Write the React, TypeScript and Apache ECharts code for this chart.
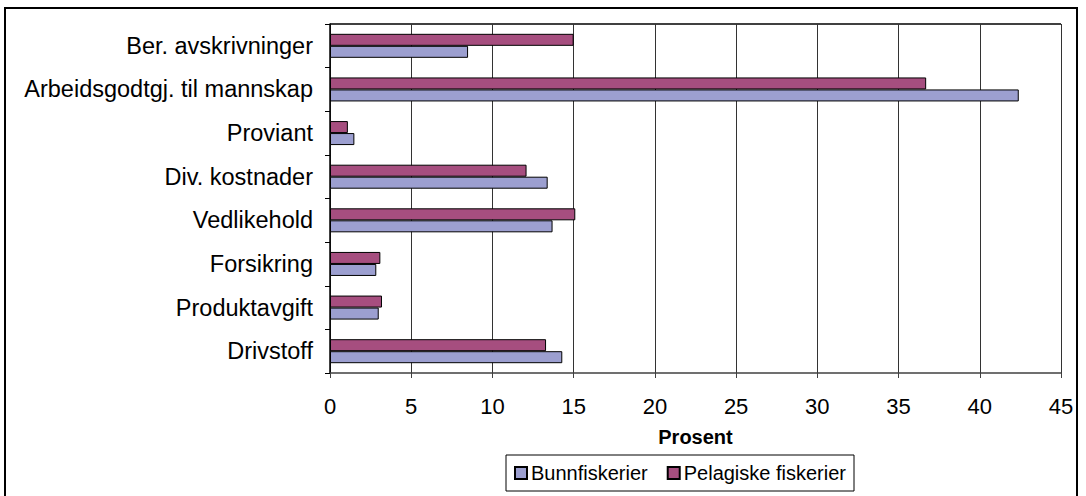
import React, { useEffect, useRef } from "react";
import * as echarts from "echarts";

const categories = [
  "Drivstoff",
  "Produktavgift",
  "Forsikring",
  "Vedlikehold",
  "Div. kostnader",
  "Proviant",
  "Arbeidsgodtgj. til mannskap",
  "Ber. avskrivninger",
];
const bunnfiskerier = [14.3, 3.0, 2.85, 13.7, 13.4, 1.5, 42.4, 8.5];
const pelagiske = [13.3, 3.2, 3.1, 15.1, 12.1, 1.1, 36.7, 15.0];
const xTicks = [0, 5, 10, 15, 20, 25, 30, 35, 40, 45];

const FONT = "'Liberation Sans', Arial, sans-serif";

export default function App() {
  const ref = useRef<HTMLDivElement>(null);
  useEffect(() => {
    document.body.style.margin = "0";
    if (!ref.current) return;
    const chart = echarts.init(ref.current, undefined, { renderer: "svg" });
    chart.setOption({
      animation: false,
      backgroundColor: "#ffffff",
      textStyle: { fontFamily: FONT },
      grid: { left: 330, top: 24, width: 731, height: 349, containLabel: false },
      graphic: [
        {
          type: "rect",
          shape: { x: 5, y: 8, width: 1072, height: 500 },
          style: { fill: "none", stroke: "#000", lineWidth: 2 },
          silent: true,
        },
        {
          type: "line",
          shape: { x1: 330, y1: 24, x2: 1061, y2: 24 },
          style: { stroke: "#000", lineWidth: 1.5 },
          silent: true,
        },
      ],
      legend: {
        data: ["Bunnfiskerier", "Pelagiske fiskerier"],
        left: 506,
        top: 455,
        orient: "horizontal",
        itemWidth: 12,
        itemHeight: 12,
        itemGap: 19,
        padding: [8, 8, 8, 8],
        borderColor: "#000",
        borderWidth: 1,
        textStyle: { fontFamily: FONT, fontSize: 20, color: "#000", padding: [0, 0, 0, -1] },
        icon: "rect",
      },
      xAxis: {
        type: "value",
        min: 0,
        max: 45,
        interval: 5,
        name: "Prosent",
        nameLocation: "middle",
        nameGap: 54,
        nameTextStyle: { fontFamily: FONT, fontSize: 20, fontWeight: "bold", color: "#000" },
        axisLine: { show: true, lineStyle: { color: "#404040", width: 1.5 } },
        axisTick: { show: true, length: 5, lineStyle: { color: "#404040" } },
        axisLabel: {
          fontFamily: FONT,
          fontSize: 22,
          color: "#000",
          margin: 22,
          formatter: (v: number) => (xTicks.includes(v) ? String(v) : ""),
        },
        splitLine: { show: true, lineStyle: { color: "#333", width: 1 } },
      },
      yAxis: {
        type: "category",
        data: categories,
        axisLine: { show: true, lineStyle: { color: "#000", width: 1.5 } },
        axisTick: { show: true, length: 5, inside: false, lineStyle: { color: "#000" } },
        axisLabel: { fontFamily: FONT, fontSize: 23.5, color: "#000", margin: 17 },
        splitLine: { show: false },
      },
      series: [
        {
          name: "Pelagiske fiskerier",
          type: "bar",
          data: pelagiske,
          barWidth: 12,
          barGap: "0%",
          itemStyle: { color: "#a64e7f", borderColor: "#000", borderWidth: 1 },
        },
        {
          name: "Bunnfiskerier",
          type: "bar",
          data: bunnfiskerier,
          barWidth: 12,
          barGap: "0%",
          itemStyle: { color: "#9c9fd0", borderColor: "#000", borderWidth: 1 },
        },
      ],
    });
    return () => chart.dispose();
  }, []);
  return <div ref={ref} style={{ width: 1086, height: 496 }} />;
}
